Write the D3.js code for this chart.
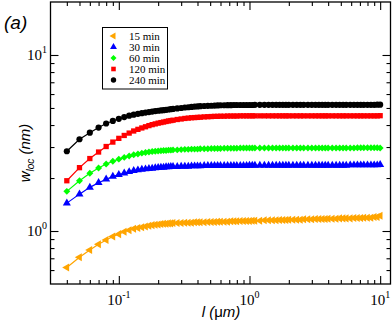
<!DOCTYPE html>
<html>
<head>
<meta charset="utf-8">
<script src="https://cdn.jsdelivr.net/npm/d3@7"></script>
<style>
  body { margin: 0; background: #fff; }
  svg { display: block; }
</style>
</head>
<body>
<script>
  // window length l (um), shared by all curves
  var lengths = [
    0.04,0.05,0.06,0.07,0.08,0.09,0.10,0.11,0.12,0.13,
    0.14,0.15,0.16,0.17,0.18,0.19,0.20,0.21,0.22,0.23,
    0.24,0.25,0.26,0.28,0.30,0.32,0.34,0.36,0.38,0.40,
    0.42,0.45,0.48,0.51,0.54,0.57,0.60,0.64,0.68,0.72,
    0.76,0.80,0.85,0.90,0.95,1.0,1.05,1.1,1.2,1.3,
    1.4,1.5,1.6,1.7,1.8,1.9,2.0,2.15,2.3,2.45,
    2.6,2.8,3.0,3.2,3.4,3.6,3.8,4.0,4.3,4.6,
    4.9,5.2,5.5,5.9,6.3,6.7,7.1,7.5,8.0,8.5,
    9.0,9.5,10.0
  ];

  // w_loc (nm) per growth time
  var w15 = [
    0.62,0.71,0.78,0.84,0.89,0.93,0.96,0.99,1.01,1.03,
    1.04,1.05,1.06,1.07,1.08,1.085,1.09,1.095,1.10,1.10,
    1.105,1.105,1.11,1.11,1.11,1.115,1.115,1.115,1.12,1.12,
    1.12,1.12,1.125,1.125,1.125,1.13,1.13,1.13,1.13,1.135,
    1.135,1.135,1.14,1.14,1.14,1.14,1.145,1.145,1.145,1.15,
    1.15,1.15,1.15,1.155,1.155,1.155,1.16,1.16,1.16,1.16,
    1.165,1.165,1.165,1.17,1.17,1.17,1.17,1.175,1.175,1.175,
    1.18,1.18,1.18,1.18,1.185,1.185,1.185,1.19,1.19,1.19,
    1.20,1.20,1.22
  ];
  var w30 = [
    1.44,1.62,1.77,1.88,1.97,2.04,2.09,2.13,2.17,2.20,
    2.22,2.24,2.25,2.26,2.27,2.28,2.29,2.30,2.30,2.31,
    2.31,2.32,2.32,2.32,2.33,2.33,2.33,2.34,2.34,2.34,
    2.34,2.35,2.35,2.35,2.35,2.35,2.35,2.35,2.35,2.35,
    2.35,2.35,2.35,2.35,2.35,2.36,2.36,2.36,2.36,2.36,
    2.36,2.36,2.36,2.36,2.36,2.36,2.36,2.36,2.36,2.36,
    2.36,2.36,2.36,2.36,2.36,2.36,2.36,2.36,2.36,2.36,
    2.36,2.36,2.36,2.37,2.37,2.37,2.37,2.37,2.37,2.37,
    2.37,2.37,2.38
  ];
  var w60 = [
    1.68,1.93,2.13,2.28,2.40,2.49,2.56,2.62,2.67,2.71,
    2.74,2.77,2.79,2.81,2.83,2.84,2.85,2.86,2.87,2.87,
    2.88,2.88,2.89,2.89,2.90,2.91,2.91,2.92,2.92,2.92,
    2.93,2.93,2.93,2.94,2.94,2.94,2.94,2.95,2.95,2.95,
    2.95,2.95,2.96,2.96,2.96,2.96,2.96,2.96,2.96,2.96,
    2.96,2.96,2.96,2.96,2.96,2.96,2.96,2.96,2.96,2.96,
    2.96,2.96,2.96,2.96,2.96,2.96,2.96,2.96,2.96,2.96,
    2.96,2.96,2.96,2.96,2.96,2.97,2.97,2.97,2.97,2.97,
    2.97,2.97,2.96
  ];
  var w120 = [
    1.93,2.29,2.58,2.81,3.02,3.20,3.36,3.49,3.60,3.70,
    3.78,3.85,3.91,3.97,4.02,4.06,4.10,4.13,4.16,4.19,
    4.22,4.24,4.26,4.30,4.33,4.36,4.38,4.40,4.41,4.42,
    4.43,4.45,4.46,4.47,4.48,4.48,4.49,4.49,4.50,4.50,
    4.50,4.50,4.51,4.51,4.51,4.51,4.51,4.51,4.51,4.51,
    4.51,4.51,4.51,4.51,4.51,4.51,4.51,4.51,4.51,4.51,
    4.51,4.51,4.51,4.51,4.51,4.51,4.51,4.51,4.51,4.51,
    4.51,4.51,4.51,4.51,4.51,4.51,4.51,4.51,4.51,4.51,
    4.51,4.51,4.52
  ];
  var w240 = [
    2.84,3.32,3.62,3.87,4.08,4.22,4.34,4.44,4.52,4.58,
    4.63,4.67,4.71,4.74,4.77,4.80,4.82,4.84,4.86,4.88,
    4.90,4.92,4.94,4.97,5.00,5.03,5.05,5.07,5.09,5.10,
    5.12,5.13,5.14,5.15,5.16,5.17,5.18,5.18,5.19,5.19,
    5.20,5.20,5.20,5.20,5.20,5.20,5.20,5.21,5.21,5.21,
    5.21,5.21,5.21,5.21,5.21,5.21,5.21,5.21,5.21,5.21,
    5.21,5.21,5.21,5.21,5.21,5.21,5.21,5.21,5.21,5.21,
    5.21,5.21,5.21,5.21,5.21,5.21,5.21,5.21,5.21,5.21,
    5.21,5.22,5.22
  ];

  var seriesNames = ['15 min', '30 min', '60 min', '120 min', '240 min'];
  var seriesValues = [w15, w30, w60, w120, w240];

  var xMajor = [0.1, 1, 10],
      xMinor = [0.04,0.05,0.06,0.07,0.08,0.09,0.2,0.3,0.4,0.5,0.6,0.7,0.8,0.9,2,3,4,5,6,7,8,9],
      xExp = ['-1', '0', '1'];
  var yMajor = [1, 10],
      yMinor = [0.6,0.7,0.8,0.9,2,3,4,5,6,7,8,9],
      yExp = ['0', '1'];

  // look of each curve
  var colors = ['#ffa500', '#0000ff', '#00ff00', '#ff0000', '#000000'];
  var shapes = [d3.symbolTriangle, d3.symbolTriangle, d3.symbolSquare, d3.symbolSquare, d3.symbolCircle];
  var sizes = [28, 28, 24, 28, 30];
  var turns = [-90, 0, 45, 0, 0];

  var W = 392, H = 326,
      pL = 50.5, pR = 390.5, pT = 2, pB = 284;

  var svg = d3.select('body').append('svg')
    .attr('width', W)
    .attr('height', H);

  var x = d3.scaleLog().domain([0.03, 12]).range([pL, pR]),
      y = d3.scaleLog().domain([0.5, 20]).range([pB, pT]);

  var serif = '"Liberation Serif","Times New Roman",serif',
      sans = '"Liberation Sans",Arial,Helvetica,sans-serif';

  // ticks on all four sides, pointing in
  function ticks(axis, vals, len, tx, ty) {
    var g = svg.append('g')
      .attr('transform', 'translate(' + tx + ',' + ty + ')')
      .call(axis.tickValues(vals).tickSize(-len).tickSizeOuter(0).tickFormat(''));
    g.select('.domain').remove();
    g.selectAll('line').attr('stroke', '#000').attr('stroke-width', 1.1);
  }
  ticks(d3.axisBottom(x), xMajor, 8, 0, pB);
  ticks(d3.axisBottom(x), xMinor, 4, 0, pB);
  ticks(d3.axisTop(x), xMajor, 8, 0, pT);
  ticks(d3.axisTop(x), xMinor, 4, 0, pT);
  ticks(d3.axisLeft(y), yMajor, 8, pL, 0);
  ticks(d3.axisLeft(y), yMinor, 4, pL, 0);
  ticks(d3.axisRight(y), yMajor, 8, pR, 0);
  ticks(d3.axisRight(y), yMinor, 4, pR, 0);

  svg.append('rect')
    .attr('x', pL).attr('y', pT)
    .attr('width', pR - pL).attr('height', pB - pT)
    .attr('fill', 'none')
    .attr('stroke', '#000')
    .attr('stroke-width', 1.3);

  // tick labels 10^n
  var xl = svg.selectAll('.xl').data(xMajor).enter().append('text')
    .attr('class', 'xl')
    .attr('x', function (d) { return x(d); })
    .attr('y', 305)
    .attr('text-anchor', 'middle')
    .style('font-family', serif)
    .style('font-size', '15px');
  xl.append('tspan').text('10');
  xl.append('tspan').attr('dy', -7).style('font-size', '10px')
    .text(function (d, i) { return xExp[i]; });

  var yl = svg.selectAll('.yl').data(yMajor).enter().append('text')
    .attr('class', 'yl')
    .attr('x', 47)
    .attr('y', function (d) { return y(d) + 5; })
    .attr('text-anchor', 'end')
    .style('font-family', serif)
    .style('font-size', '15px');
  yl.append('tspan').text('10');
  yl.append('tspan').attr('dy', -7).style('font-size', '10px')
    .text(function (d, i) { return yExp[i]; });

  // curves
  var line = d3.line()
    .x(function (d) { return x(d[0]); })
    .y(function (d) { return y(d[1]); });

  seriesValues.forEach(function (vals, s) {
    var pts = lengths.map(function (l, i) { return [l, vals[i]]; });
    var g = svg.append('g');
    g.append('path')
      .attr('d', line(pts))
      .attr('fill', 'none')
      .attr('stroke', colors[s])
      .attr('stroke-width', 1.2);
    g.selectAll('path.pt').data(pts).enter().append('path')
      .attr('class', 'pt')
      .attr('d', d3.symbol().type(shapes[s]).size(sizes[s]))
      .attr('transform', function (d) {
        return 'translate(' + x(d[0]) + ',' + y(d[1]) + ') rotate(' + turns[s] + ')';
      })
      .attr('fill', colors[s]);
  });

  // legend
  var lg = svg.append('g');
  lg.append('rect')
    .attr('x', 102.5).attr('y', 27.5)
    .attr('width', 65).attr('height', 61.5)
    .attr('fill', '#fff')
    .attr('stroke', '#000')
    .attr('stroke-width', 1);
  seriesNames.forEach(function (name, s) {
    var ry = 36 + s * 11;
    lg.append('path')
      .attr('d', d3.symbol().type(shapes[s]).size(sizes[s] * 0.75))
      .attr('transform', 'translate(113.5,' + ry + ') rotate(' + turns[s] + ')')
      .attr('fill', colors[s]);
    lg.append('text')
      .attr('x', 129)
      .attr('y', ry + 3.8)
      .style('font-family', serif)
      .style('font-size', '11px')
      .text(name);
  });

  // panel tag and axis titles
  svg.append('text')
    .attr('x', 4).attr('y', 29)
    .style('font-family', sans)
    .style('font-style', 'italic')
    .style('font-size', '19px')
    .text('(a)');

  var xt = svg.append('text')
    .attr('x', 221).attr('y', 317)
    .attr('text-anchor', 'middle')
    .style('font-family', sans)
    .style('font-style', 'italic')
    .style('font-size', '15px');
  xt.append('tspan').text('l (');
  xt.append('tspan').style('font-style', 'normal').text('μ');
  xt.append('tspan').text('m)');

  var yt = svg.append('text')
    .attr('transform', 'translate(30,153) rotate(-90)')
    .attr('text-anchor', 'middle')
    .style('font-family', sans)
    .style('font-style', 'italic')
    .style('font-size', '15px');
  yt.append('tspan').text('w');
  yt.append('tspan').attr('dy', 4).style('font-size', '10px').text('loc');
  yt.append('tspan').attr('dy', -4).text(' (nm)');
</script>
</body>
</html>
